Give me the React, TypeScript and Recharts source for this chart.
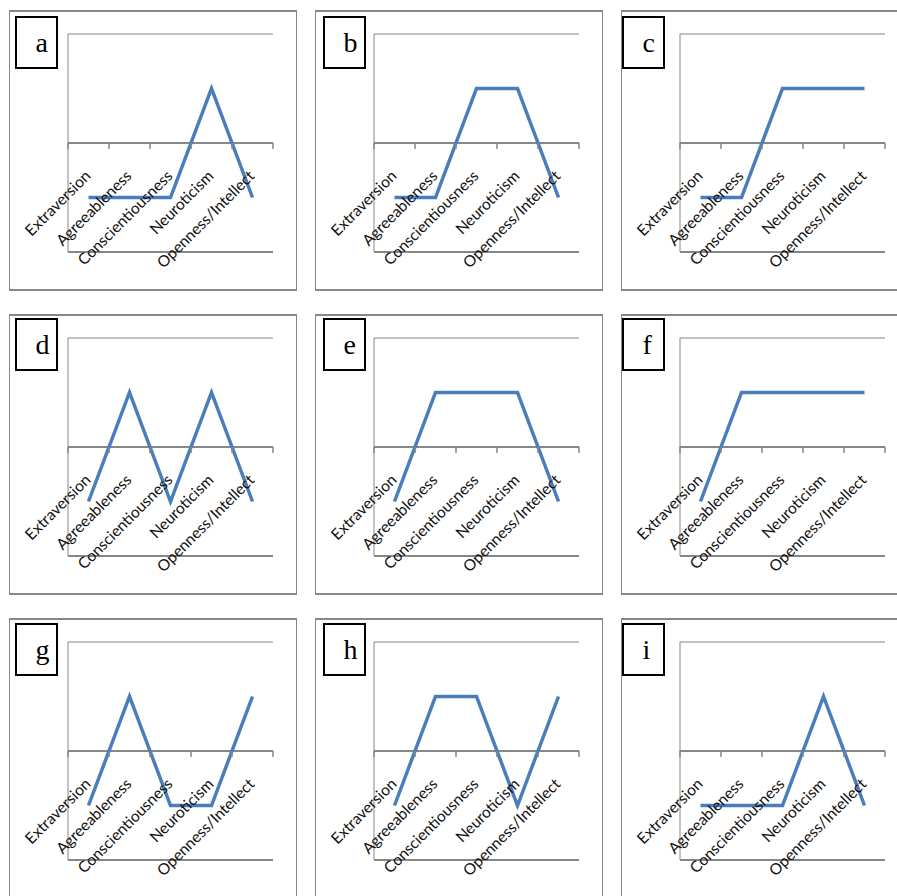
import { Line, LineChart, ReferenceLine, XAxis, YAxis } from 'recharts';

// Big Five categories shared by every panel
const categories = [
  'Extraversion',
  'Agreeableness',
  'Conscientiousness',
  'Neuroticism',
  'Openness/Intellect',
];

const panelLetters = ['a', 'b', 'c', 'd', 'e', 'f', 'g', 'h', 'i'];

// profile values per panel (low = -0.5, high = 0.5)
const profileA = [-0.5, -0.5, -0.5, 0.5, -0.5];
const profileB = [-0.5, -0.5, 0.5, 0.5, -0.5];
const profileC = [-0.5, -0.5, 0.5, 0.5, 0.5];
const profileD = [-0.5, 0.5, -0.5, 0.5, -0.5];
const profileE = [-0.5, 0.5, 0.5, 0.5, -0.5];
const profileF = [-0.5, 0.5, 0.5, 0.5, 0.5];
const profileG = [-0.5, 0.5, -0.5, -0.5, 0.5];
const profileH = [-0.5, 0.5, 0.5, -0.5, 0.5];
const profileI = [-0.5, -0.5, -0.5, 0.5, -0.5];

const profiles = [profileA, profileB, profileC, profileD, profileE, profileF, profileG, profileH, profileI];

const valueDomain = [-1, 1];
const valueTicks = [-1, 0, 1];

// layout
const PANEL_W = 288;
const PANEL_H = 281;
const colX = [9, 315, 621];
const rowY = [10, 314, 618];
const boxDx = [6.3, 7.6, 1.4];
const boxDy = [6, 3.7, 4.7];

const CHART_H = 282;
const X_AXIS_H = 30;
const Y_AXIS_W = 6;
const MARGIN = { top: 24, right: 24, bottom: 10, left: 53 };
const PLOT_W = PANEL_W - MARGIN.left - Y_AXIS_W - MARGIN.right;
const PLOT_H = CHART_H - MARGIN.top - MARGIN.bottom - X_AXIS_H;
const BAND = PLOT_W / categories.length;

const GRID = '#878787';
const LINE_BLUE = '#4a7ebb';
const LABEL_FONT = 'Lato, "Open Sans", sans-serif';

function CategoryTick(props: any) {
  const { x, y, payload, index } = props;
  // the category axis crosses the value axis at 0 (middle of the plot)
  const axisY = y - PLOT_H / 2;
  const lx = x + 3;
  const ly = axisY + 34;
  return (
    <g>
      {index === 0 ? (
        <line x1={x - BAND / 2} x2={x - BAND / 2} y1={axisY} y2={axisY + 6} stroke={GRID} strokeWidth={1.5} />
      ) : null}
      <line x1={x + BAND / 2} x2={x + BAND / 2} y1={axisY} y2={axisY + 6} stroke={GRID} strokeWidth={1.5} />
      <text
        x={lx}
        y={ly}
        transform={`rotate(-45 ${lx} ${ly})`}
        textAnchor="end"
        fontFamily={LABEL_FONT}
        fontSize={15.5}
        fill="#111"
      >
        {payload.value}
      </text>
    </g>
  );
}

function Panel({ index }: { index: number }) {
  const col = index % 3;
  const row = Math.floor(index / 3);
  const left = colX[col];
  const top = rowY[row];
  const data = categories.map((category, i) => ({ category, value: profiles[index][i] }));

  return (
    <>
      <div
        style={{
          position: 'absolute',
          left,
          top,
          width: PANEL_W,
          height: PANEL_H,
          boxSizing: 'border-box',
          borderStyle: 'solid',
          borderColor: GRID,
          borderWidth: '2px 1px 2px 1px',
        }}
      />
      <div style={{ position: 'absolute', left, top }}>
        <LineChart width={PANEL_W} height={CHART_H} data={data} margin={MARGIN}>
          <XAxis
            dataKey="category"
            type="category"
            interval={0}
            padding={{ left: BAND / 2, right: BAND / 2 }}
            axisLine={false}
            tickLine={false}
            tickSize={0}
            tickMargin={0}
            height={X_AXIS_H}
            tick={(p: any) => <CategoryTick {...p} />}
          />
          <YAxis
            type="number"
            domain={valueDomain}
            ticks={valueTicks}
            width={Y_AXIS_W}
            tick={false}
            tickSize={6}
            axisLine={{ stroke: GRID, strokeWidth: 1 }}
            tickLine={{ stroke: GRID, strokeWidth: 1 }}
          />
          <ReferenceLine y={1} stroke={GRID} strokeWidth={1} />
          <ReferenceLine y={-1} stroke={GRID} strokeWidth={2} />
          <ReferenceLine y={0} stroke={GRID} strokeWidth={2} />
          <Line
            dataKey="value"
            type="linear"
            stroke={LINE_BLUE}
            strokeWidth={3.5}
            dot={false}
            activeDot={false}
            isAnimationActive={false}
          />
        </LineChart>
      </div>
      <svg
        width={43}
        height={53}
        style={{ position: 'absolute', left: left + boxDx[col], top: top + boxDy[row] }}
      >
        <rect x={1} y={1} width={41} height={51} fill="#fff" stroke="#000" strokeWidth={2} />
        <text x={20.5} y={36} fontFamily='"Liberation Serif", "Times New Roman", serif' fontSize={28} fill="#000">
          {panelLetters[index]}
        </text>
      </svg>
    </>
  );
}

export default function App() {
  return (
    <div
      style={{
        position: 'absolute',
        left: 0,
        top: 0,
        width: 897,
        height: 896,
        overflow: 'hidden',
        background: '#fff',
      }}
    >
      {panelLetters.map((letter, i) => (
        <Panel key={letter} index={i} />
      ))}
    </div>
  );
}
